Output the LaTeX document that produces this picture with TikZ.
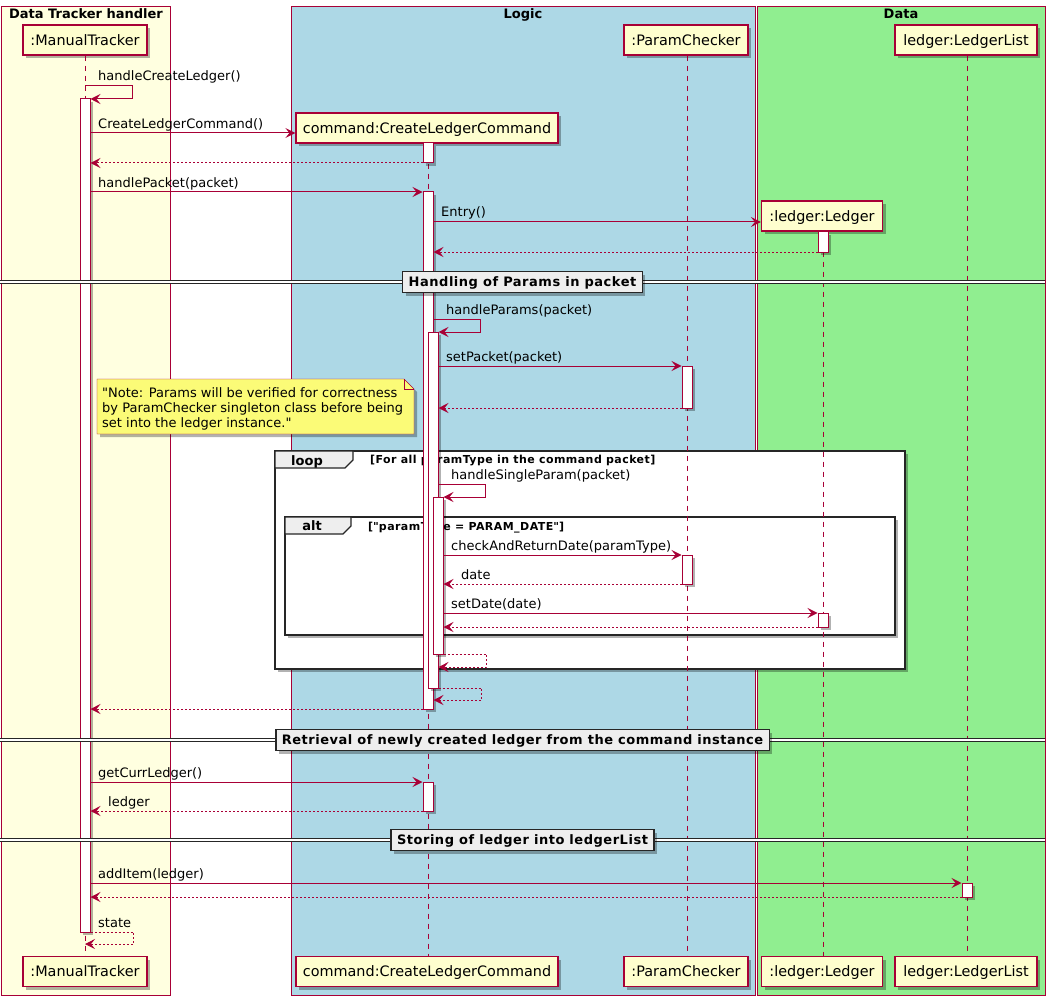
\documentclass[tikz,border=0pt]{standalone}
\usepackage{fontspec}
\setmainfont{DejaVu Sans}
\newfontfamily\spacedfont{DejaVu Sans}[LetterSpace=4]
\usetikzlibrary{arrows.meta,shadows}

\definecolor{umlred}{HTML}{A80036}
\definecolor{partfill}{HTML}{FEFECE}
\definecolor{trackfill}{HTML}{FFFFE0}
\definecolor{logicfill}{HTML}{ADD8E6}
\definecolor{datafill}{HTML}{90EE90}
\definecolor{notefill}{HTML}{FBFB77}
\definecolor{tabfill}{HTML}{EEEEEE}

\newcommand{\msgfont}{\fontsize{13}{15}\selectfont}
\newcommand{\partfont}{\fontsize{14.4}{16}\selectfont}
\newcommand{\condfont}{\spacedfont\fontsize{11}{13}\selectfont\bfseries}
% activation bar: name, lifeline x, top y, bottom y
\newcommand{\actbar}[4]{\node[actbar, minimum height={#4-#3}] (#1) at (#2,{(#3+#4)/2}) {};}

\begin{document}
\begin{tikzpicture}[x=1pt, y=-1pt,
		umlshadow/.style={drop shadow={shadow xshift=3pt, shadow yshift=-3pt, fill=black, opacity=0.3}},
		part/.style={draw=umlred, fill=partfill, line width=1.2pt, font=\partfont, minimum height=30pt,
			inner sep=0pt, text height=11.3pt, text depth=1pt, umlshadow},
		actbar/.style={draw=umlred, fill=white, line width=1pt, minimum width=10pt, inner sep=0pt, umlshadow},
		lifeline/.style={umlred, line width=1pt, dash pattern=on 5pt off 5pt},
		msg/.style={umlred, line width=1pt, -{Stealth[length=10pt, width=10pt, inset=4pt]}},
		ret/.style={msg, dash pattern=on 2pt off 2pt},
		lbl/.style={font=\msgfont, anchor=base west, inner sep=0pt},
		boxtitle/.style={font=\msgfont\bfseries, anchor=base, inner sep=0pt},
		fragbox/.style={draw=black!85, line width=1.6pt, fill=white, umlshadow},
		fragtab/.style={draw=black!85, line width=1.2pt, fill=tabfill},
		seplabel/.style={draw=black!85, line width=1.5pt, fill=tabfill, font=\spacedfont\msgfont\bfseries,
			inner xsep=6pt, inner ysep=0pt, minimum height=21pt, text height=10.5pt, text depth=1pt, umlshadow},
		sepline/.style={black!85, double, double distance=1.6pt, line width=0.9pt}
	]
	\useasboundingbox (0,0) rectangle (1051,1000);

	% participant boxes
	\draw[umlred, fill=trackfill] (1,6) rectangle (170,995);
	\draw[umlred, fill=logicfill] (291,6) rectangle (755,995);
	\draw[umlred, fill=datafill] (757,6) rectangle (1045,995);
	\node[boxtitle] (tTrack) at (86,18.5) {Data Tracker handler};
	\node[boxtitle] (tLogic) at (523,18.5) {Logic};
	\node[boxtitle] (tData) at (901,18.5) {Data};

	% loop and alt fragments
	\draw[fragbox] (275,451) rectangle (905,669);
	\draw[fragtab] (275,451) -- (353,451) -- (353,460) -- (345,468) -- (275,468) -- cycle;
	\node[boxtitle] (fLoop) at (307,465) {loop};
	\node[font=\condfont, anchor=base west, inner sep=0pt] (cLoop) at (370,463.5) {[For all paramType in the command packet]};

	\draw[fragbox] (285,517) rectangle (895,635);
	\draw[fragtab] (285,517) -- (351,517) -- (351,526) -- (343,534) -- (285,534) -- cycle;
	\node[boxtitle] (fAlt) at (312,530.5) {alt};
	\node[font=\condfont, anchor=base west, inner sep=0pt] (cAlt) at (368,530) {[\textquotedbl paramType = PARAM\_DATE\textquotedbl]};

	% participants
	\node[part, minimum width=124pt] (pMT) at (85,40) {:ManualTracker};
	\node[part, minimum width=262pt] (pCmd) at (427,128) {command:CreateLedgerCommand};
	\node[part, minimum width=124pt] (pPC) at (686,40) {:ParamChecker};
	\node[part, minimum width=121pt] (pLed) at (822,216) {:ledger:Ledger};
	\node[part, minimum width=142pt] (pLst) at (966,40) {ledger:LedgerList};

	\node[part, minimum width=124pt] (pMTb) at (85,971.5) {:ManualTracker};
	\node[part, minimum width=262pt] (pCmdb) at (427,971.5) {command:CreateLedgerCommand};
	\node[part, minimum width=124pt] (pPCb) at (686,971.5) {:ParamChecker};
	\node[part, minimum width=121pt] (pLedb) at (822,971.5) {:ledger:Ledger};
	\node[part, minimum width=142pt] (pLstb) at (966,971.5) {ledger:LedgerList};

	\draw[lifeline] (pMT) -- (pMTb);
	\draw[lifeline] ([xshift=1pt]pCmd.south) -- ([xshift=1pt]pCmdb.north);
	\draw[lifeline] ([xshift=1pt]pPC.south) -- ([xshift=1pt]pPCb.north);
	\draw[lifeline] ([xshift=1pt]pLed.south) -- ([xshift=1pt]pLedb.north);
	\draw[lifeline] ([xshift=1pt]pLst.south) -- ([xshift=1pt]pLstb.north);

	% note
	\draw[umlred, fill=notefill, umlshadow] (97,379) -- (404,379) -- (414,389) -- (414,434) -- (97,434) -- cycle;
	\draw[umlred] (404,379) -- (404,389) -- (414,389);
	\node[lbl] (noteA) at (102,397) {\textquotedbl Note: Params will be verified for correctness};
	\node[lbl] (noteB) at (102,412) {by ParamChecker singleton class before being};
	\node[lbl] (noteC) at (102,427) {set into the ledger instance.\textquotedbl};

	% activations
	\actbar{aMT}{85}{99}{932}
	\actbar{aCmdA}{428}{143}{163}
	\actbar{aCmdB}{428}{192}{709}
	\actbar{aCmdC}{433}{332}{688}
	\actbar{aCmdD}{438}{497}{654}
	\actbar{aCmdE}{428}{782}{811}
	\actbar{aPcA}{687}{366}{408}
	\actbar{aPcB}{687}{555}{584}
	\actbar{aLedA}{823}{232}{252}
	\actbar{aLedB}{823}{613}{627}
	\actbar{aLst}{967}{883}{897}

	% messages
	\draw[msg] (pMT.south |- 0,86) -- ++(47,0) |- (aMT.east |- 0,99);
	\node[lbl] (mA) at (98,81) {handleCreateLedger()};
	\draw[msg] (aMT.east |- 0,133) -- (pCmd.west |- 0,133);
	\node[lbl] (mB) at (98,128.5) {CreateLedgerCommand()};
	\draw[ret] (aCmdA.west |- 0,163) -- (aMT.east |- 0,163);
	\draw[msg] (aMT.east |- 0,192) -- (aCmdB.west |- 0,192);
	\node[lbl] (mC) at (98,187.5) {handlePacket(packet)};
	\draw[msg] (aCmdB.east |- 0,222) -- (pLed.west |- 0,222);
	\node[lbl] (mD) at (441,217) {Entry()};
	\draw[ret] (aLedA.west |- 0,252) -- (aCmdB.east |- 0,252);

	\draw[msg] (aCmdB.east |- 0,319) -- ++(47,0) |- (aCmdC.east |- 0,332);
	\node[lbl] (mE) at (446,314) {handleParams(packet)};
	\draw[msg] (aCmdC.east |- 0,366) -- (aPcA.west |- 0,366);
	\node[lbl] (mF) at (446,361) {setPacket(packet)};
	\draw[ret] (aPcA.west |- 0,408) -- (aCmdC.east |- 0,408);

	\draw[msg] (aCmdC.east |- 0,484) -- ++(47,0) |- (aCmdD.east |- 0,497);
	\node[lbl] (mG) at (451,479) {handleSingleParam(packet)};
	\draw[msg] (aCmdD.east |- 0,555) -- (aPcB.west |- 0,555);
	\node[lbl] (mH) at (451,550) {checkAndReturnDate(paramType)};
	\draw[ret] (aPcB.west |- 0,584) -- (aCmdD.east |- 0,584);
	\node[lbl] (mI) at (461,579) {date};
	\draw[msg] (aCmdD.east |- 0,613) -- (aLedB.west |- 0,613);
	\node[lbl] (mJ) at (451,608) {setDate(date)};
	\draw[ret] (aLedB.west |- 0,627) -- (aCmdD.east |- 0,627);
	\draw[ret] (aCmdD.east |- 0,654) -- ++(43,0) |- (aCmdC.east |- 0,667);
	\draw[ret] (aCmdC.east |- 0,688) -- ++(43,0) |- (aCmdB.east |- 0,700);
	\draw[ret] (aCmdB.west |- 0,709) -- (aMT.east |- 0,709);

	\draw[msg] (aMT.east |- 0,782) -- (aCmdE.west |- 0,782);
	\node[lbl] (mK) at (98,777) {getCurrLedger()};
	\draw[ret] (aCmdE.west |- 0,811) -- (aMT.east |- 0,811);
	\node[lbl] (mL) at (108,806) {ledger};

	\draw[msg] (aMT.east |- 0,883) -- (aLst.west |- 0,883);
	\node[lbl] (mM) at (98,878) {addItem(ledger)};
	\draw[ret] (aLst.west |- 0,897) -- (aMT.east |- 0,897);
	\draw[ret] (aMT.east |- 0,932) -- ++(43,0) |- (pMT.south |- 0,944);
	\node[lbl] (mN) at (98,927) {state};

	% separators
	\draw[sepline] (0,282) -- (1045,282);
	\node[seplabel] (sA) at (522.5,282) {Handling of Params in packet};
	\draw[sepline] (0,740) -- (1045,740);
	\node[seplabel] (sB) at (522.5,740) {Retrieval of newly created ledger from the command instance};
	\draw[sepline] (0,840) -- (1045,840);
	\node[seplabel] (sC) at (522.5,840) {Storing of ledger into ledgerList};
\end{tikzpicture}
\end{document}
